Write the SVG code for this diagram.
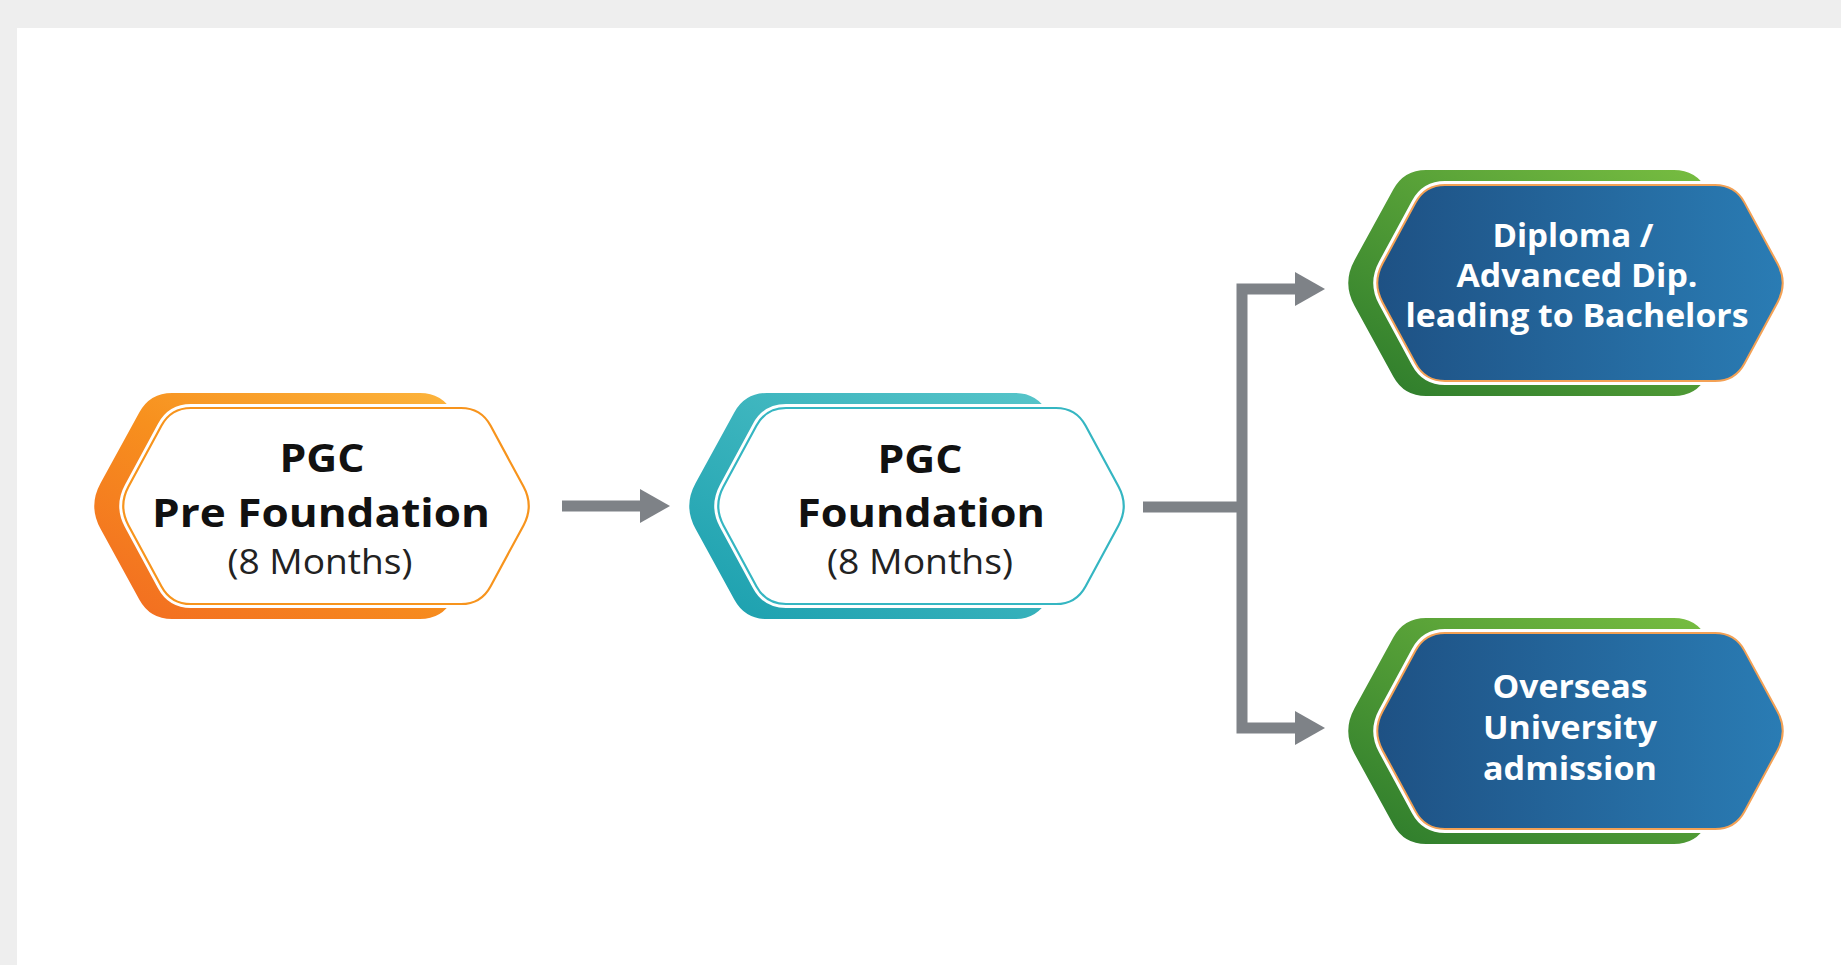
<svg xmlns="http://www.w3.org/2000/svg" xmlns:xlink="http://www.w3.org/1999/xlink" width="1841" height="965" viewBox="0 0 1841 965">
<style>
.t1{font-family:"Open Sans","Noto Sans","Liberation Sans",sans-serif;font-weight:700;font-size:40px;fill:#111111;text-anchor:middle}
.t2{font-family:"Open Sans","Noto Sans","Liberation Sans",sans-serif;font-weight:400;font-size:35px;fill:#222222;text-anchor:middle}
.t3{font-family:"Open Sans","Noto Sans","Liberation Sans",sans-serif;font-weight:700;font-size:32px;fill:#ffffff;text-anchor:middle}
.halo{fill:none;stroke:#ffffff;stroke-width:8}
.conn{fill:none;stroke:#7e8287;stroke-width:11;stroke-linejoin:miter}
</style>
<defs>
<linearGradient id="gOrange" x1="0" y1="1" x2="1" y2="0">
<stop offset="0" stop-color="#f26a21"/><stop offset="0.5" stop-color="#f7901e"/><stop offset="1" stop-color="#fdb940"/>
</linearGradient>
<linearGradient id="gTeal" x1="0" y1="1" x2="1" y2="0">
<stop offset="0" stop-color="#1a9fae"/><stop offset="1" stop-color="#5ac7cb"/>
</linearGradient>
<linearGradient id="gGreen" x1="0" y1="1" x2="1" y2="0">
<stop offset="0" stop-color="#2b7a2b"/><stop offset="1" stop-color="#7cc142"/>
</linearGradient>
<linearGradient id="gBlue" x1="0" y1="0" x2="1" y2="0">
<stop offset="0" stop-color="#1e5184"/><stop offset="1" stop-color="#2a7cb4"/>
</linearGradient>
<path id="back" d="M -154,-113 L 94,-113 Q 116,-113 126.6,-93.7 L 168,-18 Q 178,0 168,18 L 126.6,93.7 Q 116,113 94,113 L -154,113 Q -176,113 -186.6,93.7 L -225.5,22.8 Q -238,0 -225.5,-22.8 L -186.6,-93.7 Q -176,-113 -154,-113 Z"/>
<path id="front" d="M -135,-98 L 135,-98 Q 155,-98 164.5,-80.4 L 197.5,-19.4 Q 208,0 197.5,19.4 L 164.5,80.4 Q 155,98 135,98 L -135,98 Q -155,98 -164.5,80.4 L -197.5,19.4 Q -208,0 -197.5,-19.4 L -164.5,-80.4 Q -155,-98 -135,-98 Z"/>
<marker id="ah" viewBox="0 0 30 34" refX="1" refY="17" markerWidth="30" markerHeight="34" markerUnits="userSpaceOnUse" orient="auto">
<path d="M0,0 L30,17 L0,34 Z" fill="#7e8287"/>
</marker>
</defs>
<rect x="0" y="0" width="1841" height="965" fill="#eeeeee"/>
<rect x="17" y="28" width="1824" height="937" fill="#ffffff"/>

<g id="connectors">
<path class="conn" d="M562,506 H641" marker-end="url(#ah)"/>
<path class="conn" d="M1143,507 H1242"/>
<path class="conn" d="M1242,507 V289 H1296" marker-end="url(#ah)"/>
<path class="conn" d="M1242,507 V728 H1296" marker-end="url(#ah)"/>
</g>

<g id="node-pre-foundation">
<g transform="translate(326,506)">
<use xlink:href="#back" fill="url(#gOrange)"/>
<use xlink:href="#front" class="halo"/>
<use xlink:href="#front" fill="#ffffff" stroke="#f7941d" stroke-width="2.2"/>
</g>
<text class="t1" x="322" y="472" textLength="85" lengthAdjust="spacingAndGlyphs">PGC</text>
<text class="t1" x="321" y="527" textLength="338" lengthAdjust="spacingAndGlyphs">Pre Foundation</text>
<text class="t2" x="320" y="574" textLength="185" lengthAdjust="spacingAndGlyphs">(8 Months)</text>
</g>

<g id="node-foundation">
<g transform="translate(921,506)">
<use xlink:href="#back" fill="url(#gTeal)"/>
<use xlink:href="#front" class="halo"/>
<use xlink:href="#front" fill="#ffffff" stroke="#35b6c2" stroke-width="2.2"/>
</g>
<text class="t1" x="920" y="473" textLength="85" lengthAdjust="spacingAndGlyphs">PGC</text>
<text class="t1" x="921" y="527" textLength="248" lengthAdjust="spacingAndGlyphs">Foundation</text>
<text class="t2" x="920" y="574" textLength="186" lengthAdjust="spacingAndGlyphs">(8 Months)</text>
</g>

<g id="node-diploma">
<g transform="translate(1580,283)">
<use xlink:href="#back" fill="url(#gGreen)"/>
<use xlink:href="#front" class="halo"/>
<use xlink:href="#front" fill="url(#gBlue)" stroke="#f3a155" stroke-width="2"/>
</g>
<text class="t3" x="1573" y="247" textLength="161" lengthAdjust="spacingAndGlyphs">Diploma /</text>
<text class="t3" x="1577" y="287" textLength="241" lengthAdjust="spacingAndGlyphs">Advanced Dip.</text>
<text class="t3" x="1577" y="327" textLength="343" lengthAdjust="spacingAndGlyphs">leading to Bachelors</text>
</g>

<g id="node-overseas">
<g transform="translate(1580,731)">
<use xlink:href="#back" fill="url(#gGreen)"/>
<use xlink:href="#front" class="halo"/>
<use xlink:href="#front" fill="url(#gBlue)" stroke="#f3a155" stroke-width="2"/>
</g>
<text class="t3" x="1570" y="698" textLength="155" lengthAdjust="spacingAndGlyphs">Overseas</text>
<text class="t3" x="1570" y="739" textLength="174" lengthAdjust="spacingAndGlyphs">University</text>
<text class="t3" x="1570" y="780" textLength="174" lengthAdjust="spacingAndGlyphs">admission</text>
</g>
</svg>
